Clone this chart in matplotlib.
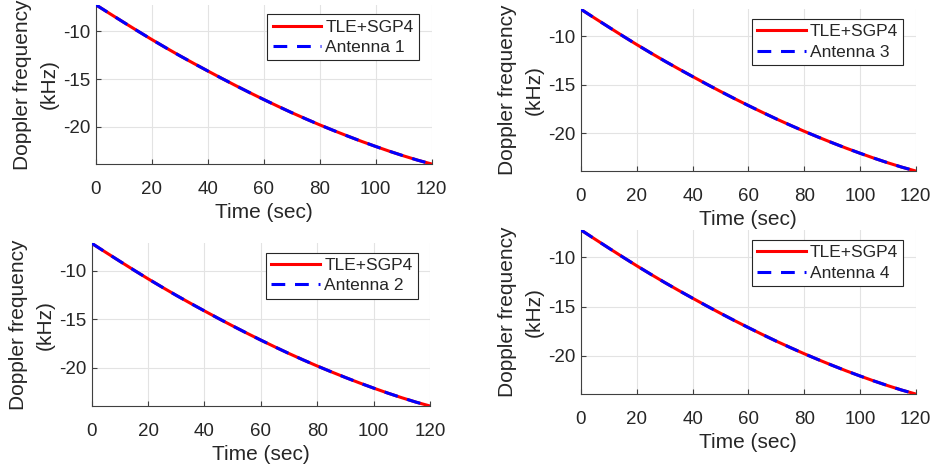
import matplotlib
matplotlib.use("Agg")
import matplotlib.pyplot as plt

plt.rcParams['font.family'] = ['Liberation Sans', 'DejaVu Sans']
plt.rcParams['axes.unicode_minus'] = False

time_sec = [0, 5, 10, 15, 20, 25, 30, 35, 40, 45, 50, 55, 60, 65, 70, 75, 80, 85, 90,
            95, 100, 105, 110, 115, 120]
tle_sgp4 = [-7.2, -8.13, -9.05, -9.96, -10.85, -11.71, -12.55, -13.36, -14.15, -14.93,
            -15.69, -16.43, -17.15, -17.85, -18.53, -19.18, -19.81, -20.41, -20.99,
            -21.55, -22.08, -22.59, -23.07, -23.52, -23.92]
antenna_1 = list(tle_sgp4)
antenna_2 = list(tle_sgp4)
antenna_3 = list(tle_sgp4)
antenna_4 = list(tle_sgp4)
antenna_labels = ["Antenna 1", "Antenna 2", "Antenna 3", "Antenna 4"]
x_ticks = [0, 20, 40, 60, 80, 100, 120]
y_ticks = [-20, -15, -10]

W, H = 935, 473
# axes rectangles in pixels: left, top, right, bottom
rects = [
    (95.7, 4.7, 431.7, 164.0),
    (91.7, 243.3, 430.0, 406.0),
    (581.0, 9.3, 915.7, 171.0),
    (581.0, 230.0, 915.7, 394.0),
]
leg_anchor = [(0.962, 0.940), (0.964, 0.942), (0.963, 0.940), (0.963, 0.939)]
antennas = [antenna_1, antenna_2, antenna_3, antenna_4]

txt = '#262626'
fig = plt.figure(figsize=(W / 100, H / 100), dpi=100)
for i, (l, t, r, b) in enumerate(rects):
    ax = fig.add_axes([l / W, (H - b) / H, (r - l) / W, (b - t) / H])
    ax.plot(time_sec, tle_sgp4, color='#ff0000', lw=2.2, label='TLE+SGP4', zorder=3)
    ax.plot(time_sec, antennas[i], color='#0000ff', lw=2.2, dashes=(4.5, 3.2),
            label=antenna_labels[i], zorder=4)
    ax.set_xlim(0, 120)
    ax.set_ylim(min(tle_sgp4), max(tle_sgp4))
    ax.set_xticks(x_ticks)
    ax.set_yticks(y_ticks)
    ax.grid(True, color='#e3e3e3', lw=0.8)
    ax.set_axisbelow(True)
    for s in ['top', 'right']:
        ax.spines[s].set_visible(False)
    for s in ['left', 'bottom']:
        ax.spines[s].set_color('#404040')
        ax.spines[s].set_linewidth(0.8)
    ax.tick_params(axis='both', direction='in', length=3.5, width=0.8,
                   colors='#404040', labelcolor=txt, labelsize=13.5)
    ax.tick_params(axis='x', pad=12.5)
    ax.tick_params(axis='y', pad=4)
    ax.set_xlabel('Time (sec)', fontsize=15, color=txt, labelpad=3)
    ax.set_ylabel('Doppler frequency\n(kHz)', fontsize=15, color=txt,
                  linespacing=1.5, labelpad=3)
    leg = ax.legend(loc='upper right', bbox_to_anchor=leg_anchor[i], borderaxespad=0,
                    fontsize=12.5, frameon=True, fancybox=False, framealpha=1,
                    edgecolor='#262626', handlelength=2.8, handletextpad=0.25,
                    labelspacing=0.3, borderpad=0.3)
    leg.get_frame().set_linewidth(0.8)
    for tx in leg.get_texts():
        tx.set_color(txt)

fig.savefig('out.png', dpi=100)
